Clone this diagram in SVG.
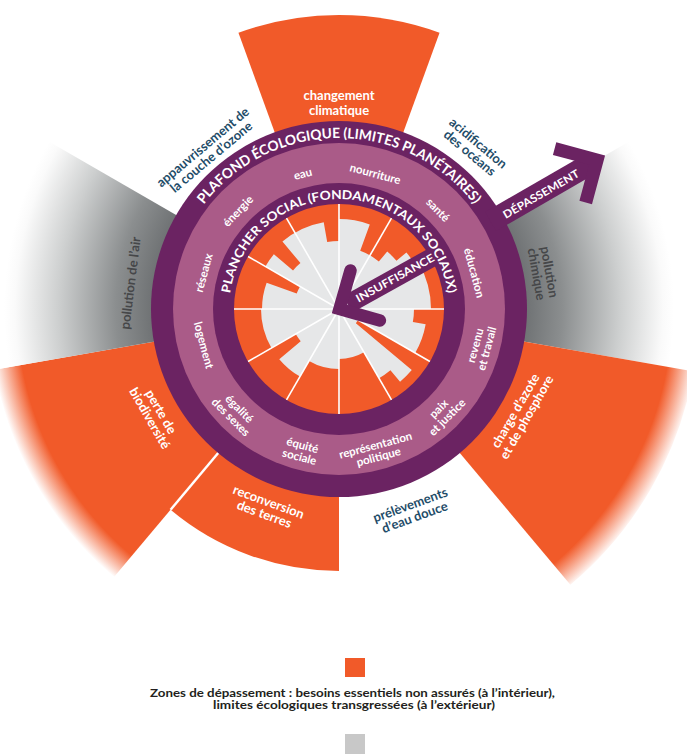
<svg xmlns="http://www.w3.org/2000/svg" width="687" height="754" viewBox="0 0 687 754">
<defs>
<style>
.t{font-family:Lato,"Liberation Sans",sans-serif;font-weight:bold}
.lbl{font-size:13px;text-anchor:middle}
.soc{font-size:11.5px;text-anchor:middle;fill:#fff}
.wh{fill:#fff}
.blue{fill:#1f4d69}
.grey{fill:#464749}
.ring{font-size:14px;fill:#fff}
.arw{fill:none;stroke:#6b2362}
</style>
<radialGradient id="gg" gradientUnits="userSpaceOnUse" cx="339" cy="309" r="360">
<stop offset="0.5" stop-color="#6a6d6f"/>
<stop offset="0.62" stop-color="#8b8e8f"/>
<stop offset="0.78" stop-color="#cdcfcf"/>
<stop offset="0.9" stop-color="#fafafa"/>
<stop offset="0.93" stop-color="#ffffff"/>
</radialGradient>
<radialGradient id="og1" gradientUnits="userSpaceOnUse" cx="339" cy="309" r="362">
<stop offset="0" stop-color="#f15a29"/>
<stop offset="0.92" stop-color="#f15a29"/>
<stop offset="1" stop-color="#f15a29" stop-opacity="0"/>
</radialGradient>
<radialGradient id="og2" gradientUnits="userSpaceOnUse" cx="339" cy="309" r="350">
<stop offset="0" stop-color="#f15a29"/>
<stop offset="0.92" stop-color="#f15a29"/>
<stop offset="1" stop-color="#f15a29" stop-opacity="0"/>
</radialGradient>
<path id="arcOut" d="M168,309 A171,171 0 0 1 510,309"/>
<path id="arcIn" d="M229,309 A110,110 0 0 1 449,309"/>
</defs>

<g id="planetary-sectors">
<path id="climate" d="M339,309 L238.45,32.73 A294,294 0 0 1 439.55,32.73 Z" fill="#f15a29"/>
<path id="chemical" d="M339,309 L650.8,129 A360,360 0 0 1 693.5,371.5 Z" fill="url(#gg)"/>
<path id="nitrogen" d="M339,309 L693.5,371.5 A360,360 0 0 1 570.4,584.8 Z" fill="url(#og1)"/>
<path id="land" d="M339,309 L339,571 A262,262 0 0 1 170.6,509.7 Z" fill="#f15a29"/>
<path id="biodiversity" d="M339,309 L114,577.1 A350,350 0 0 1 -5.7,369.8 Z" fill="url(#og2)"/>
<path id="air" d="M339,309 L-15.5,371.5 A360,360 0 0 1 27.2,129 Z" fill="url(#gg)"/>
<line x1="339" y1="309" x2="170.6" y2="509.7" stroke="#fff" stroke-width="2.5"/>
</g>

<g id="doughnut">
<circle cx="339" cy="309" r="188" fill="#6b2362"/>
<circle cx="339" cy="309" r="166" fill="#aa5b88"/>
<circle cx="339" cy="309" r="126" fill="#6b2362"/>
<circle cx="339" cy="309" r="105" fill="#f15a29"/>
</g>

<g id="social-bars">
<path fill="#e6e7e8" d="M339,219 A90,90 0 0 1 369.78,224.43 L360.21,250.74 A62,62 0 0 1 378.85,261.51 L387.21,251.55 A75,75 0 0 1 396.45,260.79 L406.41,252.43 A88,88 0 0 1 415.21,265 L418.67,263 A92,92 0 0 1 431,309 L414,309 A75,75 0 0 1 412.86,322.02 L425.66,324.28 A88,88 0 0 1 415.21,353 L358.05,320 A22,22 0 0 1 355.85,323.14 L411.77,370.07 A95,95 0 0 1 400.07,381.77 L390.42,370.28 A80,80 0 0 1 379,378.28 L364,352.3 A50,50 0 0 1 339,359 L339,369 A60,60 0 0 1 309,360.96 L300,376.55 A78,78 0 0 1 279.25,359.14 L300.7,341.14 A50,50 0 0 1 295.7,334 L271.45,348 A78,78 0 0 1 261,309 L262,309 A77,77 0 0 1 266.64,282.66 L296.71,293.61 A45,45 0 0 1 300.03,286.5 L265.39,266.5 A85,85 0 0 1 273.89,254.36 L293.04,270.43 A60,60 0 0 1 300.43,263.04 L282.43,241.59 A88,88 0 0 1 323.72,222.34 L327.19,242.03 A68,68 0 0 1 339,241 Z"/>
<g stroke="#fff" stroke-width="1.6" transform="translate(339 309)">
<line x1="0" y1="0" x2="0" y2="-105"/>
<line x1="0" y1="0" x2="0" y2="-105" transform="rotate(30)"/>
<line x1="0" y1="0" x2="0" y2="-105" transform="rotate(60)"/>
<line x1="0" y1="0" x2="0" y2="-105" transform="rotate(90)"/>
<line x1="0" y1="0" x2="0" y2="-105" transform="rotate(120)"/>
<line x1="0" y1="0" x2="0" y2="-105" transform="rotate(150)"/>
<line x1="0" y1="0" x2="0" y2="-105" transform="rotate(180)"/>
<line x1="0" y1="0" x2="0" y2="-105" transform="rotate(210)"/>
<line x1="0" y1="0" x2="0" y2="-105" transform="rotate(240)"/>
<line x1="0" y1="0" x2="0" y2="-105" transform="rotate(270)"/>
<line x1="0" y1="0" x2="0" y2="-105" transform="rotate(300)"/>
<line x1="0" y1="0" x2="0" y2="-105" transform="rotate(330)"/>
</g>
</g>

<g id="connectors">
<g id="arrow-depassement">
<line class="arw" x1="490.6" y1="221.5" x2="591.9" y2="163" stroke-width="22"/>
<polyline class="arw" points="554.6,148.6 597.1,160 585.7,202.5" stroke-width="13" stroke-linejoin="miter"/>
</g>
<g id="arrow-insuffisance">
<line class="arw" x1="347.7" y1="304.2" x2="444" y2="250.8" stroke-width="19"/>
<polyline class="arw" points="350.5,270.5 339.5,309 379.9,320.6" stroke-width="12.5" stroke-linejoin="miter" stroke-linecap="round"/>
</g>
</g>

<g id="ring-titles" class="t">
<text class="ring"><textPath href="#arcOut" startOffset="50%" text-anchor="middle" textLength="312" lengthAdjust="spacingAndGlyphs">PLAFOND ÉCOLOGIQUE (LIMITES PLANÉTAIRES)</textPath></text>
<text class="ring" style="font-size:12.5px"><textPath href="#arcIn" startOffset="50%" text-anchor="middle" textLength="314" lengthAdjust="spacingAndGlyphs">PLANCHER SOCIAL (FONDAMENTAUX SOCIAUX)</textPath></text>
<text class="wh" style="font-size:11px" text-anchor="middle" transform="translate(541 194) rotate(-30)" dy="4" textLength="86" lengthAdjust="spacingAndGlyphs">DÉPASSEMENT</text>
<text class="wh" style="font-size:11px" text-anchor="middle" transform="translate(395 278) rotate(-29)" dy="4" textLength="88" lengthAdjust="spacingAndGlyphs">INSUFFISANCE</text>
</g>

<g id="planetary-labels" class="t lbl">
<g id="lbl-climate"><text class="wh" x="339" y="100">changement</text><text class="wh" x="339" y="115">climatique</text></g>
<g id="lbl-acid" transform="translate(474 148) rotate(40)"><text class="blue" y="-2">acidification</text><text class="blue" y="11">des océans</text></g>
<g id="lbl-chem" transform="translate(543 273) rotate(80)"><text class="grey" y="-2">pollution</text><text class="grey" y="11">chimique</text></g>
<g id="lbl-nitro" transform="translate(521 414) rotate(-60)"><text class="wh" y="-2">charge d’azote</text><text class="wh" y="11">et de phosphore</text></g>
<g id="lbl-fresh" transform="translate(412.5 511) rotate(-20)"><text class="blue" y="-2">prélèvements</text><text class="blue" y="11">d’eau douce</text></g>
<g id="lbl-land" transform="translate(266.5 508) rotate(20)"><text class="wh" y="-2">reconversion</text><text class="wh" y="11">des terres</text></g>
<g id="lbl-bio" transform="translate(155.4 415) rotate(60)"><text class="wh" y="-2">perte de</text><text class="wh" y="11">biodiversité</text></g>
<g id="lbl-air" transform="translate(130.5 283) rotate(-83)"><text class="grey" y="4.5">pollution de l’air</text></g>
<g id="lbl-ozone" transform="translate(207 152) rotate(-40)"><text class="blue" y="-2">appauvrissement de</text><text class="blue" y="11">la couche d’ozone</text></g>
</g>

<g id="social-labels" class="t soc">
<g id="s-eau" transform="translate(302.8 173.8) rotate(-15)"><text y="4">eau</text></g>
<g id="s-nourriture" transform="translate(375.2 173.8) rotate(15)"><text y="4">nourriture</text></g>
<g id="s-sante" transform="translate(438 210) rotate(45)"><text y="4">santé</text></g>
<g id="s-education" transform="translate(474.2 272.8) rotate(75)"><text y="4">éducation</text></g>
<g id="s-revenu" transform="translate(481 347) rotate(-75)"><text y="-2">revenu</text><text y="10">et travail</text></g>
<g id="s-paix" transform="translate(442.9 412.9) rotate(-45)"><text y="-2">paix</text><text y="10">et justice</text></g>
<g id="s-representation" transform="translate(377 451) rotate(-15)"><text y="-2">représentation</text><text y="10">politique</text></g>
<g id="s-equite" transform="translate(301 451) rotate(15)"><text y="-2">équité</text><text y="10">sociale</text></g>
<g id="s-egalite" transform="translate(235.1 412.9) rotate(45)"><text y="-2">égalité</text><text y="10">des sexes</text></g>
<g id="s-logement" transform="translate(203.8 345.2) rotate(75)"><text y="4">logement</text></g>
<g id="s-reseaux" transform="translate(203.8 272.8) rotate(-75)"><text y="4">réseaux</text></g>
<g id="s-energie" transform="translate(238 211) rotate(-46)"><text y="4">énergie</text></g>
</g>

<g id="legend" class="t">
<rect x="345" y="658" width="20" height="19" fill="#f15a29"/>
<text x="352.5" y="696.5" font-size="11.5" text-anchor="middle" fill="#231f20" textLength="405" lengthAdjust="spacingAndGlyphs">Zones de dépassement : besoins essentiels non assurés (à l’intérieur),</text>
<text x="354" y="708.5" font-size="11.5" text-anchor="middle" fill="#231f20" textLength="282" lengthAdjust="spacingAndGlyphs">limites écologiques transgressées (à l’extérieur)</text>
<rect x="345" y="734" width="20" height="20" fill="#c8c8c8"/>
</g>
</svg>
